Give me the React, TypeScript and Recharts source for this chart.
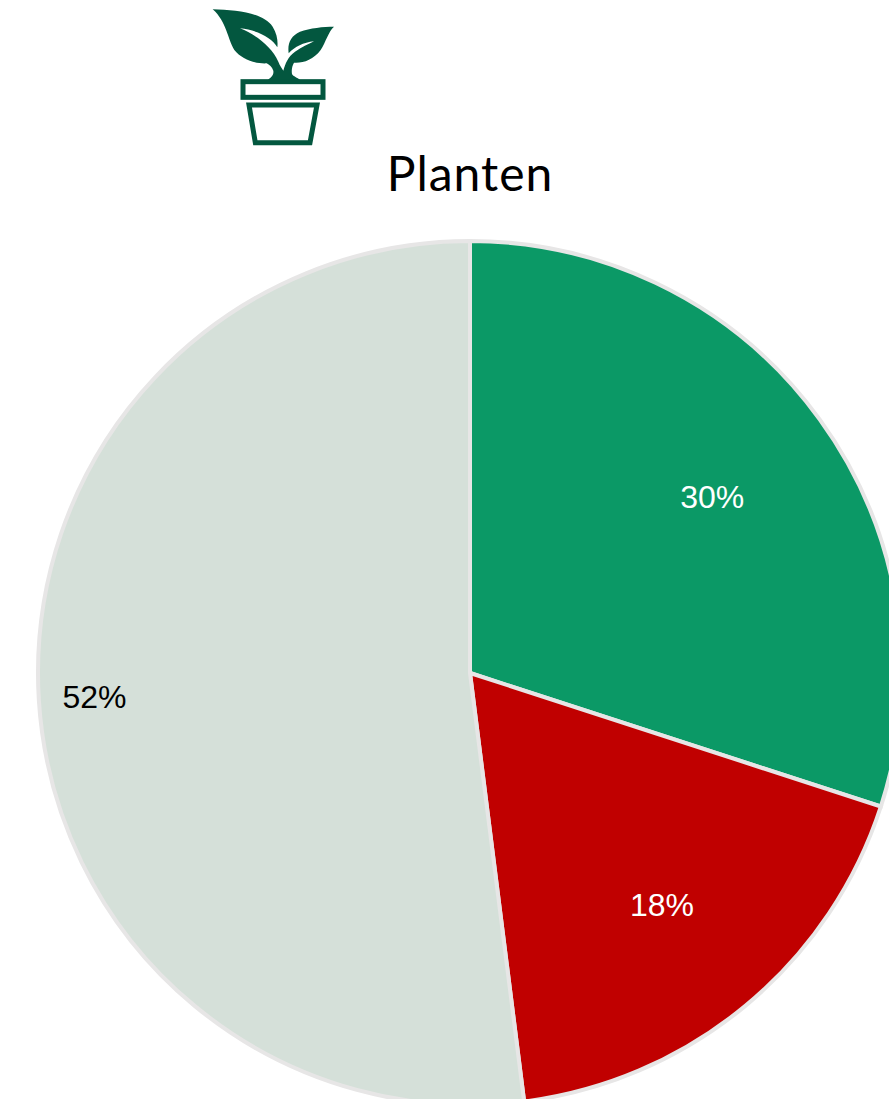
import { PieChart, Pie, Cell } from 'recharts';

const SLICE_NAMES = ['Groen', 'Rood', 'Overig'];
const SLICE_VALUES = [30, 18, 52];
const SLICE_COLORS = ['#0b9966', '#c00000', '#d5e0d9'];
const LABEL_COLORS = ['#ffffff', '#ffffff', '#000000'];
// how far out each label sits, as a fraction of the radius
const LABEL_RADII = [0.693, 0.697, 0.871];

const pieData = SLICE_NAMES.map((name, i) => ({ name, value: SLICE_VALUES[i] }));

const RAD = Math.PI / 180;

function SliceLabel(props: any) {
  const { cx, cy, midAngle, outerRadius, percent, index } = props;
  const r = outerRadius * LABEL_RADII[index];
  return (
    <text
      x={cx + r * Math.cos(-midAngle * RAD)}
      y={cy + r * Math.sin(-midAngle * RAD)}
      fill={LABEL_COLORS[index]}
      fontFamily="'Liberation Sans', Arial, sans-serif"
      fontSize={32}
      textAnchor="middle"
      dominantBaseline="central"
    >
      {`${Math.round(percent * 100)}%`}
    </text>
  );
}

function PlantIcon() {
  return (
    <svg
      width={150}
      height={150}
      viewBox="0 0 450 450"
      style={{ position: 'absolute', left: 200, top: 0 }}
    >
      <g fill="#03573f">
        {/* both leaves and the stem, with the veins cut in as notches */}
        <path d="M38 28 C110 30 190 38 218 80 C232 102 234 125 232 142 C215 112 170 90 120 85 C170 105 215 140 235 185 C240 198 246 205 250 212 C256 190 264 170 285 155 C305 142 325 132 342 124 C310 128 285 140 266 160 C262 130 272 108 300 95 C330 84 370 80 402 80 C385 95 378 125 362 150 C340 180 308 190 282 188 C276 198 274 210 276 222 C280 230 292 232 300 240 L203 240 C213 232 222 226 220 212 C216 200 208 194 200 190 C168 192 125 178 103 150 C83 118 80 65 38 28 Z" />
      </g>
      <rect x={129} y={245} width={240} height={47} fill="#ffffff" stroke="#03573f" strokeWidth={15} />
      <path d="M147 315 L351 315 L330 428 L166 428 Z" fill="#ffffff" stroke="#03573f" strokeWidth={15} />
    </svg>
  );
}

export default function App() {
  return (
    <div style={{ position: 'absolute', left: 0, top: 0, width: 889, height: 1099, overflow: 'hidden', background: '#ffffff' }}>
      <PlantIcon />
      <div
        style={{
          position: 'absolute',
          left: 0,
          width: 940,
          top: 143,
          textAlign: 'center',
          fontFamily: "Lato, 'Noto Sans', sans-serif",
          fontSize: 48,
          letterSpacing: 1,
          lineHeight: '60px',
          color: '#000000',
        }}
      >
        Planten
      </div>
      <div style={{ position: 'absolute', left: 0, top: 0 }}>
        <PieChart width={889} height={1099} margin={{ top: 0, right: 0, bottom: 0, left: 0 }}>
          <Pie
            data={pieData}
            dataKey="value"
            nameKey="name"
            cx={470}
            cy={673}
            outerRadius={432}
            startAngle={90}
            endAngle={-270}
            stroke="#e7e6e6"
            strokeWidth={4}
            label={SliceLabel}
            labelLine={false}
            isAnimationActive={false}
          >
            {pieData.map((d, i) => (
              <Cell key={d.name} fill={SLICE_COLORS[i]} />
            ))}
          </Pie>
        </PieChart>
      </div>
    </div>
  );
}
